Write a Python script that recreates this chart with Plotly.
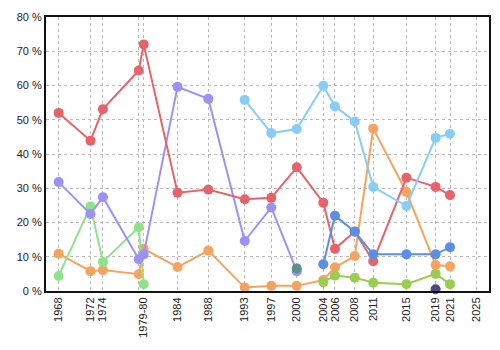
import plotly.graph_objects as go

# x positions (decimal years) for each election
x_pos = {
    "1968": 1968.0, "1972": 1972.31, "1974": 1974.0, "1979": 1978.85, "1980": 1979.52,
    "1984": 1984.1, "1988": 1988.27, "1993": 1993.2, "1997": 1996.8, "2000": 2000.25,
    "2004": 2003.84, "2006": 2005.42, "2008": 2008.1, "2011": 2010.6, "2015": 2015.1,
    "2019": 2019.05, "2021": 2021.0, "2025": 2024.6,
}
tick_keys = ["1968", "1972", "1974", "1979", "1980", "1984", "1988", "1993", "1997",
             "2000", "2004", "2006", "2008", "2011", "2015", "2019", "2021", "2025"]
tick_labels = ["1968", "1972", "1974", "", "1979-80", "1984", "1988", "1993", "1997",
               "2000", "2004", "2006", "2008", "2011", "2015", "2019", "2021", "2025"]

red_years = ["1968", "1972", "1974", "1979", "1980", "1984", "1988", "1993", "1997", "2000",
             "2004", "2006", "2008", "2011", "2015", "2019", "2021"]
red_vals = [52.0, 43.9, 53.1, 64.4, 72.0, 28.7, 29.6, 26.8, 27.2, 36.1,
            25.8, 12.3, 17.4, 8.7, 33.1, 30.4, 28.0]

purple_years = ["1968", "1972", "1974", "1979", "1980", "1984", "1988", "1993", "1997", "2000"]
purple_vals = [31.8, 22.5, 27.4, 9.3, 10.7, 59.6, 56.1, 14.6, 24.4, 5.8]

green_years = ["1968", "1972", "1974", "1979", "1980"]
green_vals = [4.4, 24.7, 8.5, 18.6, 2.0]

orange_years = ["1968", "1972", "1974", "1979", "1980", "1984", "1988", "1993", "1997", "2000",
                "2004", "2006", "2008", "2011", "2015", "2019", "2021"]
orange_vals = [10.9, 5.8, 6.1, 4.9, 12.3, 7.0, 11.8, 1.0, 1.5, 1.5,
               3.2, 6.9, 10.2, 47.4, 28.9, 7.6, 7.2]

sky_years = ["1993", "1997", "2000", "2004", "2006", "2008", "2011", "2015", "2019", "2021"]
sky_vals = [55.8, 46.1, 47.3, 59.9, 53.9, 49.5, 30.4, 24.8, 44.7, 45.9]

blue_years = ["2004", "2006", "2008", "2011", "2015", "2019", "2021"]
blue_vals = [7.8, 22.0, 17.3, 10.7, 10.7, 10.7, 12.8]

lime_years = ["2004", "2006", "2008", "2011", "2015", "2019", "2021"]
lime_vals = [2.6, 4.5, 3.9, 2.4, 2.0, 5.0, 2.0]

teal_years = ["2000"]
teal_vals = [6.6]

navy_years = ["2019"]
navy_vals = [0.5]

series = [
    (orange_years, orange_vals, "#f4a460"),
    (green_years, green_vals, "#8ee38a"),
    (purple_years, purple_vals, "#9b91f7"),
    (red_years, red_vals, "#e6636a"),
    (sky_years, sky_vals, "#87cdf7"),
    (lime_years, lime_vals, "#9acd4f"),
    (blue_years, blue_vals, "#5b8fe6"),
    (teal_years, teal_vals, "#5f8e8e"),
    (navy_years, navy_vals, "#4c4a85"),
]

fig = go.Figure()
for yrs, vals, col in series:
    fig.add_trace(go.Scatter(
        x=[x_pos[k] for k in yrs], y=vals, mode="lines+markers",
        line=dict(color=col, width=2), marker=dict(color=col, size=10),
        cliponaxis=False, showlegend=False,
    ))

fig.update_layout(
    width=500, height=350,
    margin=dict(l=46, r=9, t=17, b=59),
    paper_bgcolor="white", plot_bgcolor="white",
    font=dict(family="Liberation Sans, Arial, sans-serif", size=11, color="#222"),
)
fig.update_xaxes(
    range=[1966.29, 2026.28],
    tickmode="array", tickvals=[x_pos[k] for k in tick_keys], ticktext=tick_labels,
    tickangle=-90, ticks="", showgrid=True, gridcolor="#bbbbbb", griddash="dot", gridwidth=1,
    showline=True, linecolor="#111", linewidth=2, mirror=True, zeroline=False,
)
fig.update_yaxes(
    range=[0, 80], tickmode="array", tickvals=[0, 10, 20, 30, 40, 50, 60, 70, 80],
    ticktext=[f"{v} %" for v in [0, 10, 20, 30, 40, 50, 60, 70, 80]],
    ticks="", showgrid=True, gridcolor="#bbbbbb", griddash="dot", gridwidth=1,
    showline=True, linecolor="#111", linewidth=2, mirror=True, zeroline=False,
)

fig.write_html("out.html")
